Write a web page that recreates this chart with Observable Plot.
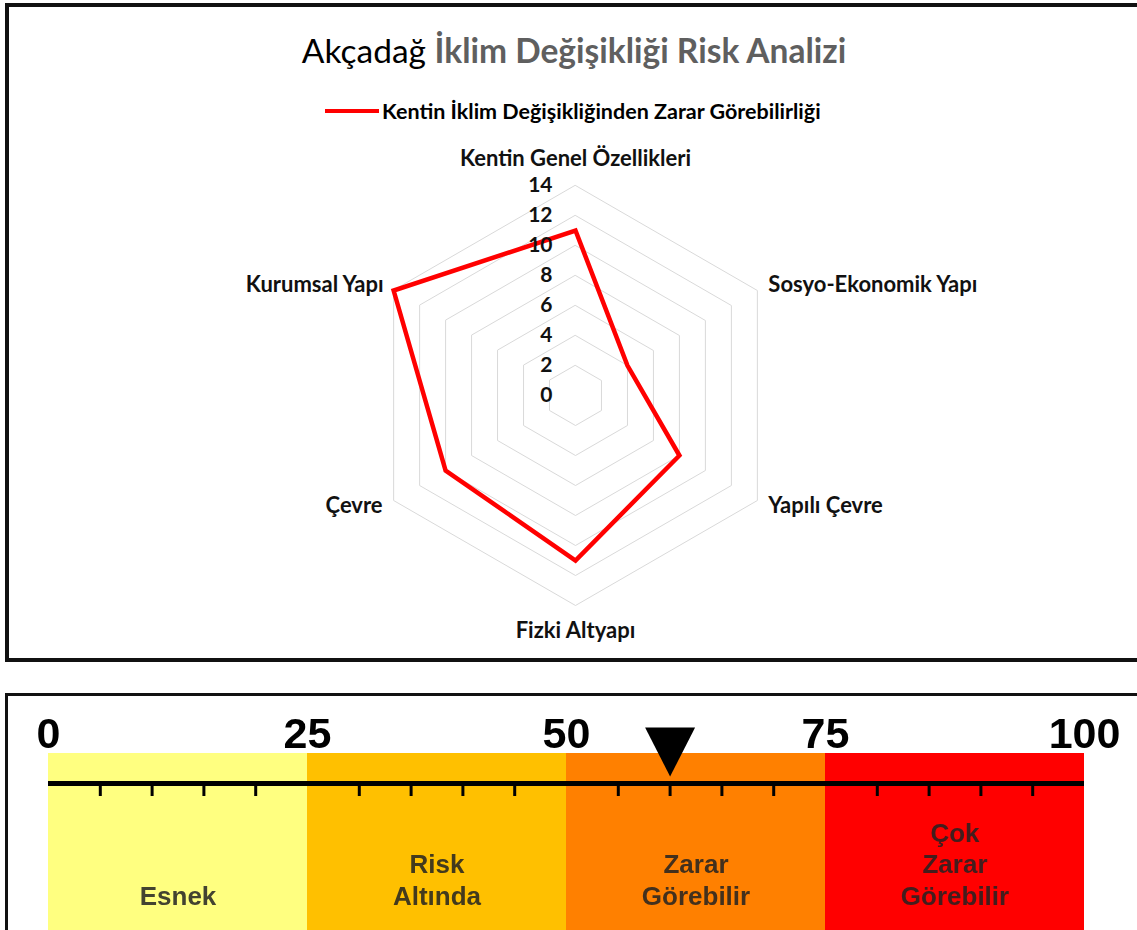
<!DOCTYPE html>
<html>
<head>
<meta charset="utf-8">
<script src="https://cdn.jsdelivr.net/npm/d3@7"></script>
<script src="https://cdn.jsdelivr.net/npm/@observablehq/plot@0.6"></script>
<style>
  html, body { margin: 0; padding: 0; background: #fff; }
  body { width: 1137px; height: 930px; position: relative; overflow: hidden; font-family: Lato, "Open Sans", sans-serif; }
  .panel { position: absolute; box-sizing: border-box; border: 0 solid #111; }
  #radarPanel { left: 5px; top: 3px; width: 1200px; height: 659px; border-top-width: 4px; border-left-width: 4px; border-bottom-width: 4px; }
  #scalePanel { left: 5px; top: 693px; width: 1200px; height: 300px; border-top-width: 3px; border-left-width: 3px; }
  #title { position: absolute; left: 574px; top: 30px; transform: translateX(-50%); white-space: nowrap; font-size: 33.5px; line-height: 40px; color: #000; }
  #title b { color: #5f5f5f; font-weight: 700; }
  #legend { position: absolute; left: 325px; top: 98px; height: 26px; display: flex; align-items: center; white-space: nowrap; font-weight: 700; font-size: 21.5px; color: #000; }
  #legend .swatch { width: 54px; height: 4px; background: #ff0000; margin-right: 3px; }
  #radar, #scale { position: absolute; left: 0; }
  #radar { top: 0; }
  #scale { top: 697px; filter: blur(0.5px); }
</style>
</head>
<body>
<div id="radarPanel" class="panel"></div>
<div id="scalePanel" class="panel"></div>
<div id="title">Akçadağ <b>İklim Değişikliği Risk Analizi</b></div>
<div id="legend"><span class="swatch"></span><span id="seriesLabel"></span></div>
<div id="radar"></div>
<div id="scale"></div>
<script>
// Radar: six vulnerability dimensions, scored 0–14
const categories = [
  "Kentin Genel Özellikleri",
  "Sosyo-Ekonomik Yapı",
  "Yapılı Çevre",
  "Fizki Altyapı",
  "Çevre",
  "Kurumsal Yapı"
];
const vulnerability = [11, 4, 8, 11, 10, 14];
const radialTicks = [0, 2, 4, 6, 8, 10, 12, 14];
const seriesName = "Kentin İklim Değişikliğinden Zarar Görebilirliği";

// Risk scale: four bands on 0–100 and the city's position on it
const bandNames = ["Esnek", "Risk\nAltında", "Zarar\nGörebilir", "Çok\nZarar\nGörebilir"];
const bandStarts = [0, 25, 50, 75];
const bandEnds = [25, 50, 75, 100];
const bandColors = ["#ffff80", "#ffc000", "#ff8000", "#ff0000"];
const scaleLabels = [0, 25, 50, 75, 100];
const minorTicks = [5, 10, 15, 20, 30, 35, 40, 45, 55, 60, 65, 70, 80, 85, 90, 95];
const riskScore = 60;

document.getElementById("seriesLabel").textContent = seriesName;

// ---------- radar chart ----------
const W = 1137, H = 660;
const cx = 575, cy = 395, unit = 15; // centre of the web and pixels per score point
const rMax = d3.max(radialTicks);
const n = categories.length;
const angle = i => (i * 2 * Math.PI) / n; // clockwise from the top
const polar = (r, i) => ({x: r * Math.sin(angle(i)), y: r * Math.cos(angle(i))});

const rings = radialTicks.filter(v => v > 0)
  .flatMap(v => categories.map((c, i) => ({v, ...polar(v, i)})));
const series = categories.map((c, i) => ({category: c, value: vulnerability[i], ...polar(vulnerability[i], i)}));
const axisEnds = categories.map((c, i) => ({category: c, i, ...polar(rMax, i)}));

const radarFont = "Lato, 'Open Sans', sans-serif";
const catText = (filter, opts) => Plot.text(axisEnds.filter(filter), {
  x: "x", y: "y", text: "category", fontSize: 22, fontWeight: "bold", fill: "#111",
  fontFamily: radarFont, ...opts
});

const radar = Plot.plot({
  width: W, height: H, margin: 0,
  x: {domain: [-cx / unit, (W - cx) / unit], axis: null},
  y: {domain: [-(H - cy) / unit, cy / unit], axis: null},
  style: {background: "transparent", overflow: "visible"},
  marks: [
    Plot.line(rings, {x: "x", y: "y", z: "v", curve: "linear-closed", stroke: "#d9d9d9", strokeWidth: 1}),
    Plot.line(series, {x: "x", y: "y", curve: "linear-closed", stroke: "#ff0000", strokeWidth: 4.5, strokeLinejoin: "miter", strokeMiterlimit: 10}),
    Plot.text(radialTicks, {x: 0, y: d => d, text: d => String(d), textAnchor: "end", dx: -23,
      fontSize: 21, fontWeight: "bold", fill: "#111", fontFamily: radarFont}),
    catText(d => d.i === 0, {dy: -27}),
    catText(d => d.i === 3, {dy: 25}),
    catText(d => d.i === 1, {textAnchor: "start", dx: 11, dy: -6}),
    catText(d => d.i === 2, {textAnchor: "start", dx: 11, dy: 5}),
    catText(d => d.i === 5, {textAnchor: "end", dx: -10, dy: -6}),
    catText(d => d.i === 4, {textAnchor: "end", dx: -11, dy: 5})
  ]
});
document.getElementById("radar").append(radar);

// ---------- risk scale ----------
const bands = bandNames.map((name, i) => ({name, from: bandStarts[i], to: bandEnds[i], color: bandColors[i]}));

// downward-pointing marker whose tip sits at the anchor point
const downTriangle = {
  draw(context, size) {
    const r = Math.sqrt(size / Math.PI);
    const h = 1.96 * r;
    context.moveTo(-r, -h);
    context.lineTo(r, -h);
    context.lineTo(0, 0);
    context.closePath();
  }
};

const scaleFont = "'Liberation Sans', Arial, sans-serif";
const SW = 1137, SH = 233;
const scale = Plot.plot({
  width: SW, height: SH,
  marginLeft: 48, marginRight: 53, marginTop: 0, marginBottom: 0,
  x: {domain: [0, 100], axis: null},
  y: {domain: [-56, 177], range: [0, SH], axis: null},
  style: {background: "transparent", overflow: "visible"},
  marks: [
    Plot.rect(bands, {x1: "from", x2: "to", y1: () => 0, y2: () => 177, fill: "color"}),
    Plot.ruleY([30], {x1: () => 0, x2: () => 100, stroke: "#000", strokeWidth: 5}),
    Plot.ruleX(minorTicks, {x: d => d, y1: () => 30, y2: () => 43, stroke: "#000", strokeWidth: 3}),
    Plot.text(scaleLabels, {x: d => d, y: () => -6, text: d => String(d), lineAnchor: "bottom",
      fontSize: 43, fontWeight: "bold", fill: "#000", fontFamily: scaleFont}),
    Plot.text(bands, {x: d => (d.from + d.to) / 2, y: () => 151, text: "name", lineAnchor: "bottom",
      lineHeight: 1.21, fontSize: 26, fontWeight: "bold", fill: "#222", fillOpacity: 0.85, fontFamily: scaleFont}),
    Plot.dot([riskScore], {x: d => d, y: () => 23, r: 25, symbol: downTriangle, fill: "#000", stroke: "none"})
  ]
});
document.getElementById("scale").append(scale);
</script>
</body>
</html>
